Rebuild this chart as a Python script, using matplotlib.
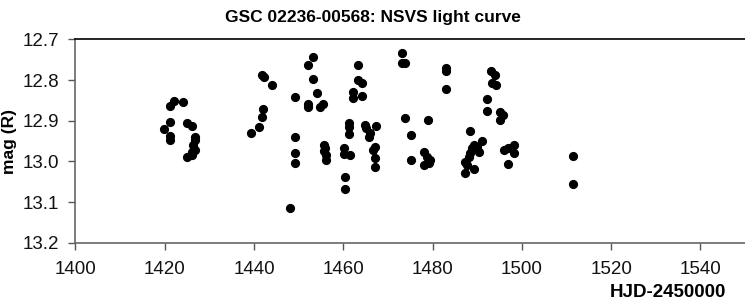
import matplotlib
matplotlib.use("Agg")
import matplotlib.pyplot as plt

plt.rcParams['font.family'] = ['Liberation Sans', 'DejaVu Sans']

# HJD-2450000 and R magnitude
hjd = [1419.9, 1421.2, 1421.2, 1421.2, 1421.2, 1422.1, 1424.0, 1424.9, 1426.2, 1424.9,
       1426.1, 1426.8, 1426.8, 1426.3, 1426.8, 1426.1,
       1439.3, 1441.1, 1441.9, 1442.1, 1441.7, 1442.3, 1444.0,
       1449.2, 1449.2, 1449.2, 1449.2, 1448.1,
       1452.1, 1453.2, 1453.2, 1454.1, 1452.1, 1452.1, 1454.7, 1455.4,
       1455.6, 1456.0, 1455.6, 1456.2, 1456.2,
       1460.2, 1460.2, 1461.5, 1460.4, 1460.4, 1461.3, 1461.3, 1461.3,
       1462.2, 1462.2, 1463.3, 1463.4, 1464.2, 1464.2,
       1464.9, 1465.1, 1465.7, 1466.0, 1467.4, 1467.2, 1466.6, 1467.2, 1467.2,
       1473.1, 1473.1, 1473.9, 1473.9, 1475.2, 1475.2,
       1479.0, 1478.0, 1478.7, 1479.5, 1478.0, 1479.1,
       1483.1, 1483.1, 1483.1,
       1488.3, 1489.2, 1490.0, 1488.8, 1490.3, 1491.1, 1488.1, 1488.5, 1487.3, 1487.3,
       1489.2, 1487.7,
       1492.3, 1492.3, 1493.1, 1494.1, 1493.3, 1494.3,
       1495.2, 1495.8, 1495.2,
       1496.1, 1497.0, 1498.2, 1498.2, 1497.0,
       1511.5, 1511.5]
mag = [12.921, 12.902, 12.938, 12.947, 12.864, 12.852, 12.854, 12.906, 12.913, 12.990,
       12.984, 12.939, 12.947, 12.960, 12.972, 12.977,
       12.930, 12.915, 12.890, 12.870, 12.788, 12.792, 12.812,
       12.841, 12.941, 12.979, 13.005, 13.114,
       12.763, 12.743, 12.798, 12.831, 12.859, 12.867, 12.866, 12.859,
       12.960, 12.968, 12.975, 12.985, 12.997,
       12.968, 12.982, 12.985, 13.039, 13.069, 12.906, 12.915, 12.933,
       12.829, 12.845, 12.763, 12.800, 12.808, 12.839,
       12.911, 12.919, 12.939, 12.931, 12.912, 12.964, 12.972, 12.992, 13.013,
       12.734, 12.759, 12.757, 12.893, 12.936, 12.997,
       12.899, 12.976, 12.988, 12.997, 13.009, 13.005,
       12.770, 12.777, 12.821,
       12.925, 12.960, 12.964, 12.968, 12.976, 12.949, 12.988, 12.980, 13.001, 13.029,
       13.019, 13.009,
       12.847, 12.876, 12.777, 12.788, 12.808, 12.812,
       12.878, 12.886, 12.898,
       12.972, 12.968, 12.960, 12.980, 13.007,
       12.987, 13.056]

xticks = [1400, 1420, 1440, 1460, 1480, 1500, 1520, 1540]
yticks = [12.7, 12.8, 12.9, 13.0, 13.1, 13.2]

fig = plt.figure(figsize=(7.45, 3.05), dpi=100)
ax = fig.add_axes([0.1013, 0.204, 0.8987, 0.667])

ax.plot(hjd, mag, 'o', color='black', markersize=5.6, linestyle='none')

ax.set_xlim(1400, 1550)
ax.set_ylim(13.2, 12.7)
ax.set_xticks(xticks)
ax.set_yticks(yticks)
ax.set_yticklabels([f"{v:.1f}" for v in yticks])
ax.tick_params(axis='both', labelsize=13.5, colors='#555555', labelcolor='#111111',
               direction='out', length=5, width=1)
ax.tick_params(axis='x', pad=8)
ax.tick_params(axis='y', pad=7)

for side in ['left', 'bottom']:
    ax.spines[side].set_color('#666666')
    ax.spines[side].set_linewidth(1.2)
ax.spines['top'].set_color('black')
ax.spines['top'].set_linewidth(1.2)
ax.spines['right'].set_visible(False)

ax.set_ylabel('mag (R)', fontsize=12.5, fontweight='bold', labelpad=4)
fig.text(0.975, 0.012, 'HJD-2450000', fontsize=13.5, fontweight='bold',
         ha='right', va='bottom')
fig.text(0.5, 0.968, 'GSC 02236-00568: NSVS light curve', fontsize=12.5,
         fontweight='bold', ha='center', va='top')

fig.savefig('out.png', dpi=100)
